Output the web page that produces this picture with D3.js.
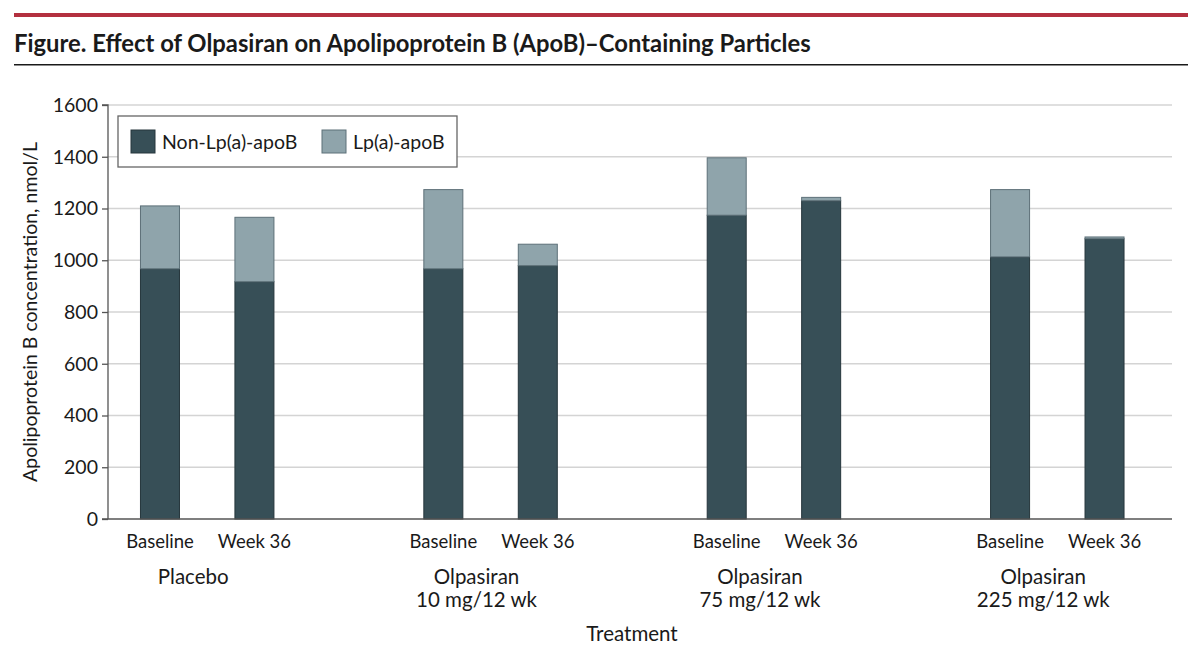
<!DOCTYPE html>
<html>
<head>
<meta charset="utf-8">
<script src="https://cdn.jsdelivr.net/npm/d3@7"></script>
<style>
  body { margin: 0; background: #fff; }
  svg { display: block; font-family: Lato, "Open Sans", sans-serif; }
</style>
</head>
<body>
<svg id="chart" width="1200" height="660"></svg>
<script>
// ---- Data ----
const groups = ["Placebo", "Olpasiran\n10 mg/12 wk", "Olpasiran\n75 mg/12 wk", "Olpasiran\n225 mg/12 wk"];
const timepoints = ["Baseline", "Week 36"];
const nonLpaApoB = [967, 917, 967, 979, 1174, 1230, 1013, 1083];
const lpaApoB   = [243, 249, 306, 83, 222, 13, 260, 7];
const yTicks = [0, 200, 400, 600, 800, 1000, 1200, 1400, 1600];
const seriesNames = ["Non-Lp(a)-apoB", "Lp(a)-apoB"];
const seriesColors = ["#374f57", "#8fa4ab"];
const strokeColors = ["#26363c", "#5d7078"];

// ---- Layout ----
const svg = d3.select("#chart");
const mLeft = 108, mRight = 1172, mTop = 105, mBottom = 519;

// Slots: 2 bars per group + an empty spacer slot between groups
const slots = [];
groups.forEach((g, gi) => {
  timepoints.forEach((t, ti) => slots.push({ key: gi + "_" + ti, g: gi, t: ti }));
  if (gi < groups.length - 1) slots.push({ key: "gap" + gi, gap: true });
});

const x = d3.scaleBand()
  .domain(slots.map(s => s.key))
  .range([112.75, 1151.75])
  .paddingInner(0.587)
  .paddingOuter(0.587 / 2);

const y = d3.scaleLinear().domain([0, 1600]).range([mBottom, mTop]);

// Header
svg.append("rect").attr("x", 14).attr("y", 13).attr("width", 1174).attr("height", 4).attr("fill", "#b3303f");
svg.append("text").attr("x", 14).attr("y", 52)
  .attr("font-size", 23.8).attr("font-weight", 700).attr("fill", "#1a1a1a")
  .text("Figure. Effect of Olpasiran on Apolipoprotein B (ApoB)–Containing Particles");
svg.append("rect").attr("x", 14).attr("y", 64).attr("width", 1174).attr("height", 1.5).attr("fill", "#1a1a1a");

// Gridlines
svg.append("g").selectAll("line").data(yTicks.filter(d => d > 0)).join("line")
  .attr("x1", mLeft).attr("x2", mRight)
  .attr("y1", d => y(d)).attr("y2", d => y(d))
  .attr("stroke", "#d4d4d4").attr("stroke-width", 1.3);

// Y axis
const yAxis = d3.axisLeft(y).tickValues(yTicks).tickSize(6).tickPadding(4).tickFormat(d3.format("d"));
const yg = svg.append("g").attr("transform", `translate(${mLeft},0)`).call(yAxis);
yg.select(".domain").attr("stroke", "#555").attr("stroke-width", 1.3).attr("d", `M-6,${mTop}H0V${mBottom}`);
yg.selectAll(".tick line").attr("stroke", "#555").attr("stroke-width", 1.3);
yg.selectAll(".tick text").attr("font-size", 19.5).attr("fill", "#1a1a1a").attr("font-family", "Lato, sans-serif");

// Bars
const barData = slots.filter(s => !s.gap).map((s, i) => ({ ...s, non: nonLpaApoB[i], lpa: lpaApoB[i] }));
const bg = svg.append("g");
bg.selectAll("rect.non").data(barData).join("rect")
  .attr("class", "non")
  .attr("x", d => x(d.key)).attr("width", x.bandwidth())
  .attr("y", d => y(d.non)).attr("height", d => y(0) - y(d.non))
  .attr("fill", seriesColors[0]).attr("stroke", strokeColors[0]).attr("stroke-width", 1);
bg.selectAll("rect.lpa").data(barData).join("rect")
  .attr("class", "lpa")
  .attr("x", d => x(d.key)).attr("width", x.bandwidth())
  .attr("y", d => y(d.non + d.lpa)).attr("height", d => y(d.non) - y(d.non + d.lpa))
  .attr("fill", seriesColors[1]).attr("stroke", strokeColors[1]).attr("stroke-width", 1);

// X axis line
svg.append("line").attr("x1", mLeft - 6).attr("x2", mRight).attr("y1", mBottom).attr("y2", mBottom)
  .attr("stroke", "#555").attr("stroke-width", 1.3);

// Time point labels
svg.append("g").selectAll("text").data(barData).join("text")
  .attr("x", d => x(d.key) + x.bandwidth() / 2).attr("y", 548)
  .attr("text-anchor", "middle").attr("font-size", 18.5).attr("fill", "#1a1a1a")
  .text(d => timepoints[d.t]);

// Group labels
const groupCenter = gi => (x(gi + "_0") + x(gi + "_1") + x.bandwidth()) / 2 - 14;
const gl = svg.append("g").selectAll("text").data(groups).join("text")
  .attr("x", (d, i) => groupCenter(i)).attr("y", 584)
  .attr("text-anchor", "middle").attr("font-size", 20.5).attr("fill", "#1a1a1a");
gl.each(function(d, i) {
  const lines = d.split("\n");
  const t = d3.select(this);
  const cx = groupCenter(i);
  lines.forEach((ln, li) => t.append("tspan").attr("x", cx).attr("dy", li === 0 ? 0 : 23).text(ln));
});

// Axis titles
svg.append("text").attr("x", 632).attr("y", 641)
  .attr("text-anchor", "middle").attr("font-size", 20.5).attr("fill", "#1a1a1a").text("Treatment");
svg.append("text").attr("transform", `translate(37,${(mTop + mBottom) / 2}) rotate(-90)`)
  .attr("text-anchor", "middle").attr("font-size", 19.5).attr("fill", "#1a1a1a")
  .text("Apolipoprotein B concentration, nmol/L");

// Legend
const lg = svg.append("g");
lg.append("rect").attr("x", 118).attr("y", 116).attr("width", 339).attr("height", 51)
  .attr("fill", "#fff").attr("stroke", "#666").attr("stroke-width", 1.3);
const legendX = [131, 322];
seriesNames.forEach((nm, i) => {
  lg.append("rect").attr("x", legendX[i]).attr("y", 130).attr("width", 24).attr("height", 23)
    .attr("fill", seriesColors[i]).attr("stroke", strokeColors[i]).attr("stroke-width", 1);
  lg.append("text").attr("x", legendX[i] + 31).attr("y", 149).attr("font-size", 19.5).attr("fill", "#1a1a1a").text(nm);
});
</script>
</body>
</html>
